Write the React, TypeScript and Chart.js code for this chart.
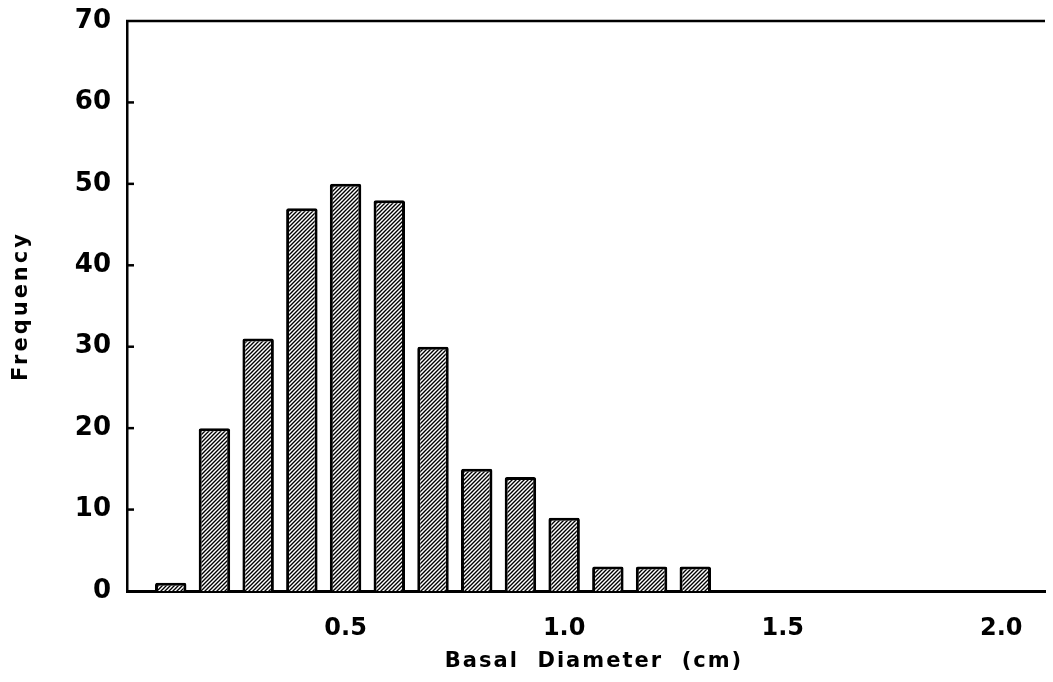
import React, { useEffect, useRef } from "react";
import { Chart, registerables } from "chart.js";

Chart.register(...registerables);

// ---- data ----
const diameters = [0.1, 0.2, 0.3, 0.4, 0.5, 0.6, 0.7, 0.8, 0.9, 1.0, 1.1, 1.2, 1.3];
const frequencies = [1, 20, 31, 47, 50, 48, 30, 15, 14, 9, 3, 3, 3];
const xTickValues = [0.5, 1.0, 1.5, 2.0];
const yTickValues = [0, 10, 20, 30, 40, 50, 60, 70];
const xTitle = "Basal  Diameter  (cm)";
const yTitle = "Frequency";

const FONT = '"DejaVu Sans", "Liberation Sans", sans-serif';

function makeHatch(): CanvasPattern | string {
  const s = 4;
  const c = document.createElement("canvas");
  c.width = s;
  c.height = s;
  const g = c.getContext("2d");
  if (!g) return "#888";
  g.fillStyle = "#fff";
  g.fillRect(0, 0, s, s);
  g.strokeStyle = "#000";
  g.lineWidth = 1.4;
  g.beginPath();
  g.moveTo(-1, s + 1);
  g.lineTo(s + 1, -1);
  g.moveTo(-2, 2);
  g.lineTo(2, -2);
  g.moveTo(s - 2, s + 2);
  g.lineTo(s + 2, s - 2);
  g.stroke();
  return g.createPattern(c, "repeat") || "#888";
}

const framePlugin = {
  id: "frame",
  afterDraw(chart: any) {
    const { ctx, chartArea: ca, scales } = chart;
    const y = scales.y;
    ctx.save();
    ctx.strokeStyle = "#000";
    ctx.lineWidth = 2.5;
    ctx.beginPath();
    ctx.moveTo(ca.left - 1, ca.top);
    ctx.lineTo(ca.right, ca.top);
    ctx.stroke();
    // inward tick marks on the y axis
    ctx.lineWidth = 2.5;
    for (const v of yTickValues) {
      if (v === yTickValues[0] || v === yTickValues[yTickValues.length - 1]) continue;
      const py = y.getPixelForValue(v);
      ctx.beginPath();
      ctx.moveTo(ca.left, py);
      ctx.lineTo(ca.left + 7, py);
      ctx.stroke();
    }
    // axis titles
    ctx.fillStyle = "#000";
    ctx.font = `bold 21px ${FONT}`;
    ctx.textAlign = "center";
    ctx.textBaseline = "middle";
    try {
      (ctx as any).letterSpacing = "2px";
    } catch (e) {}
    ctx.fillText(xTitle, (ca.left + ca.right) / 2 + 8, chart.height - 20);
    try {
      (ctx as any).letterSpacing = "3px";
    } catch (e) {}
    ctx.translate(22, (ca.top + ca.bottom) / 2);
    ctx.rotate(-Math.PI / 2);
    ctx.fillText(yTitle, 0, 0);
    ctx.restore();
  },
};

export default function App() {
  const ref = useRef<HTMLCanvasElement | null>(null);

  useEffect(() => {
    document.body.style.margin = "0";
    const canvas = ref.current;
    if (!canvas) return;
    const hatch = makeHatch();
    const chart = new Chart(canvas, {
      type: "bar",
      data: {
        datasets: [
          {
            data: diameters.map((d, i) => ({ x: d, y: frequencies[i] })),
            backgroundColor: hatch as any,
            borderColor: "#000",
            borderWidth: 3,
            borderRadius: 2,
            barPercentage: 0.72,
            categoryPercentage: 1,
          },
        ],
      },
      options: {
        responsive: false,
        animation: false,
        devicePixelRatio: 1,
        layout: { padding: { left: 0, right: 8, top: 21, bottom: 0 } },
        plugins: {
          legend: { display: false },
          tooltip: { enabled: false },
        },
        scales: {
          x: {
            type: "linear",
            min: 0,
            max: 2.1,
            offset: false,
            grid: { display: false, drawTicks: false, offset: false },
            border: { display: true, color: "#000", width: 3 },
            afterBuildTicks: (scale: any) => {
              scale.ticks = xTickValues.map((v) => ({ value: v }));
            },
            afterFit: (scale: any) => {
              scale.height = 91;
              scale.paddingLeft = 0;
              scale.paddingRight = 0;
            },
            ticks: {
              color: "#000",
              padding: 23,
              maxRotation: 0,
              autoSkip: false,
              font: { family: FONT, size: 24, weight: "bold" },
              callback: (v: any) => Number(v).toFixed(1),
            },
          },
          y: {
            type: "linear",
            min: 0,
            max: 70,
            grid: { display: false, drawTicks: false },
            border: { display: true, color: "#000", width: 2.5 },
            afterBuildTicks: (scale: any) => {
              scale.ticks = yTickValues.map((v) => ({ value: v }));
            },
            afterFit: (scale: any) => {
              scale.width = 127;
              scale.paddingTop = 0;
              scale.paddingBottom = 0;
            },
            ticks: {
              color: "#000",
              padding: 16,
              font: { family: FONT, size: 26, weight: "bold" },
              callback: (v: any) => String(v),
            },
          },
        },
      },
      plugins: [framePlugin],
    });
    return () => chart.destroy();
  }, []);

  return (
    <div style={{ position: "absolute", left: 0, top: 0, width: 1053, height: 682, background: "#fff" }}>
      <canvas ref={ref} width={1053} height={682} style={{ display: "block" }} />
    </div>
  );
}
